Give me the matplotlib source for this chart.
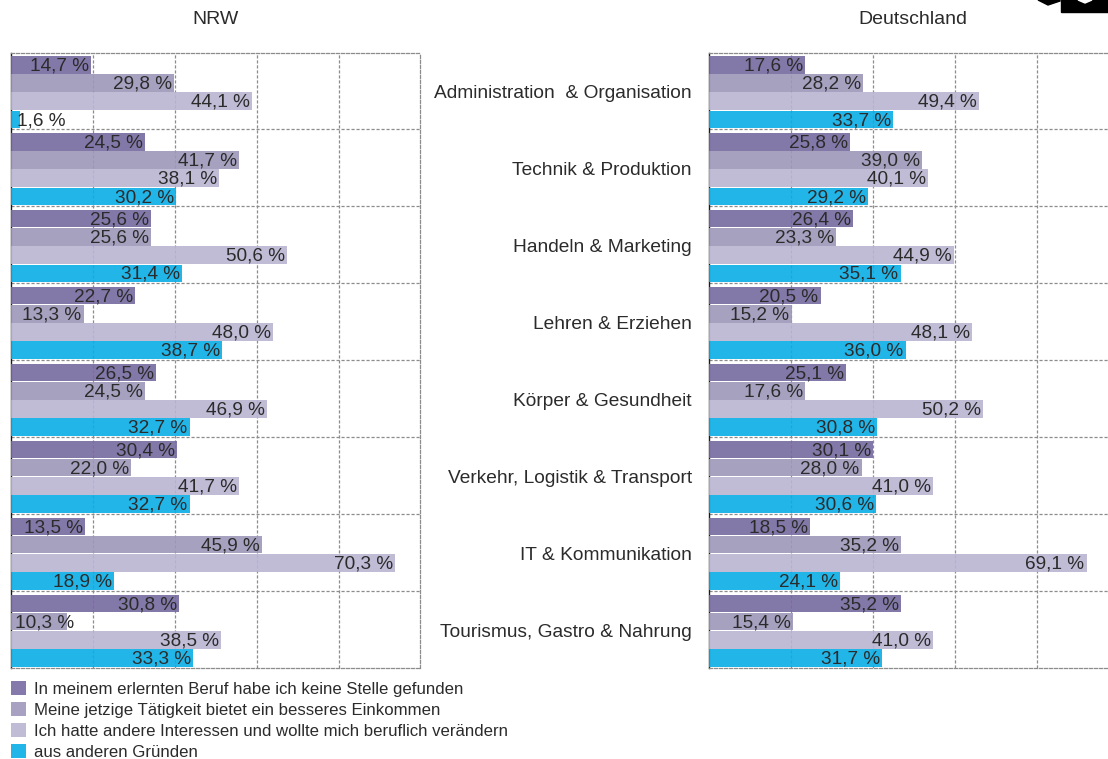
import numpy as np
import matplotlib
matplotlib.use("Agg")
import matplotlib.pyplot as plt
from matplotlib.patches import Patch, Polygon, Rectangle

plt.rcParams["font.family"] = ["Liberation Sans", "DejaVu Sans"]

categories = ["Administration  & Organisation", "Technik & Produktion", "Handeln & Marketing",
              "Lehren & Erziehen", "Körper & Gesundheit", "Verkehr, Logistik & Transport",
              "IT & Kommunikation", "Tourismus, Gastro & Nahrung"]
reasons = ["In meinem erlernten Beruf habe ich keine Stelle gefunden",
           "Meine jetzige Tätigkeit bietet ein besseres Einkommen",
           "Ich hatte andere Interessen und wollte mich beruflich verändern",
           "aus anderen Gründen"]

# one list per reason, same order as categories
nrw_keine_stelle = [14.7, 24.5, 25.6, 22.7, 26.5, 30.4, 13.5, 30.8]
nrw_einkommen = [29.8, 41.7, 25.6, 13.3, 24.5, 22.0, 45.9, 10.3]
nrw_interessen = [44.1, 38.1, 50.6, 48.0, 46.9, 41.7, 70.3, 38.5]
nrw_andere = [1.6, 30.2, 31.4, 38.7, 32.7, 32.7, 18.9, 33.3]

de_keine_stelle = [17.6, 25.8, 26.4, 20.5, 25.1, 30.1, 18.5, 35.2]
de_einkommen = [28.2, 39.0, 23.3, 15.2, 17.6, 28.0, 35.2, 15.4]
de_interessen = [49.4, 40.1, 44.9, 48.1, 50.2, 41.0, 69.1, 41.0]
de_andere = [33.7, 29.2, 35.1, 36.0, 30.8, 30.6, 24.1, 31.7]

# slightly darker than they look, the bars are see-through so the grid shows faintly
colors = ["#766AA0", "#9E97BA", "#BAB5D2", "#09ADE6"]
legendColors = ["#8479AA", "#A8A1C1", "#C1BCD6", "#22B5E8"]
textColor = "#2b2b2b"
gridColor = "#8c8c8c"

W, H = 1108, 759
fig = plt.figure(figsize=(W / 100, H / 100), dpi=100)

def add_axes_px(left, right, top, bottom):
  return fig.add_axes([left / W, 1 - bottom / H, (right - left) / W, (bottom - top) / H])

def label_pos(v):
  # the short bars got their labels pushed past the bar end
  if v < 5:
    return v + 8.3
  if v < 12:
    return v + 1.2
  return v - 0.4

def plot_panel(ax, series, xmax, title, titleX):
  y = np.arange(len(categories))
  for i, values in enumerate(series):
    ypos = y + 0.015 + (i - 1.5) * 0.2365
    ax.barh(ypos, values, height=0.228, color=colors[i], alpha=0.9, zorder=3)
    for yy, v in zip(ypos, values):
      ax.text(label_pos(v), yy + 0.015, f"{v:.1f} %".replace(".", ","), ha="right", va="center",
              fontsize=13.7, color=textColor, zorder=4)
  ax.set_xlim(0, xmax)
  ax.set_ylim(len(categories) - 0.5, -0.5)
  ax.set_xticks(np.arange(15, xmax + 0.01, 15))
  ax.set_yticks(y[:-1] + 0.5)
  ax.grid(True, color=gridColor, linestyle=(0, (2.5, 1.5)), linewidth=0.9, zorder=2)
  ax.set_axisbelow(True)
  ax.tick_params(length=0, labelbottom=False, labelleft=False)
  for side in ["top", "bottom", "right"]:
    ax.spines[side].set_color(gridColor)
    ax.spines[side].set_linestyle((0, (2.5, 1.5)))
    ax.spines[side].set_linewidth(0.9)
  ax.spines["left"].set_color("#1a1a1a")
  ax.spines["left"].set_linewidth(1.0)
  fig.text(titleX / W, 1 - 20 / H, title, ha="center", va="center", fontsize=14, color=textColor)

axLeft = add_axes_px(11, 419.5, 52.5, 668)
plot_panel(axLeft, [nrw_keine_stelle, nrw_einkommen, nrw_interessen, nrw_andere], 74.8, "NRW", 216)

# the right panel runs off the page edge, its last gridlines are cut
axRight = add_axes_px(708.5, 1108, 52.5, 668)
plot_panel(axRight, [de_keine_stelle, de_einkommen, de_interessen, de_andere], 73.0, "Deutschland", 913)
axRight.spines["right"].set_visible(False)

for i, name in enumerate(categories):
  axRight.annotate(name, xy=(0, i), xycoords=axRight.get_yaxis_transform(), xytext=(-12, -2.0),
                   textcoords="offset points", ha="right", va="center", fontsize=13.8, color=textColor)

handles = [Patch(facecolor=c, edgecolor="none") for c in legendColors]
fig.legend(handles, reasons, loc="upper left", bbox_to_anchor=(11 / W, 1 - 681.5 / H), frameon=False,
           fontsize=12.05, labelcolor=textColor, handlelength=0.88, handleheight=0.88, handletextpad=0.5,
           labelspacing=0.32, borderaxespad=0, borderpad=0)

# bit of the logo that is cut off at the top corner
fig.add_artist(Rectangle((1061 / W, 1 - 12 / H), 47 / W, 12 / H, color="black", transform=fig.transFigure))
fig.add_artist(Polygon([(1078 / W, 1), (1085 / W, 1 - 3 / H), (1092 / W, 1)], color="white", transform=fig.transFigure))
fig.add_artist(Polygon([(1038 / W, 1), (1048 / W, 1 - 5 / H), (1060 / W, 1 - 1 / H), (1060 / W, 1)], color="black", transform=fig.transFigure))

fig.savefig("out.png", dpi=100)
